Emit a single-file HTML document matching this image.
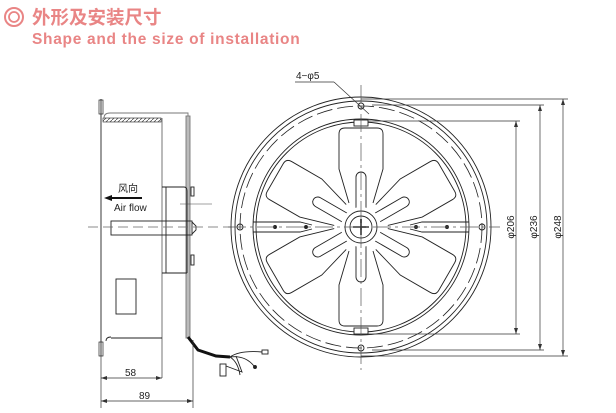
<!DOCTYPE html>
<html><head><meta charset="utf-8"><style>
html,body{margin:0;padding:0;background:#fff;width:616px;height:413px;overflow:hidden}
svg{display:block}
text{font-family:"Liberation Sans","Noto Sans CJK SC",sans-serif}
</style></head><body>
<svg width="616" height="413" viewBox="0 0 616 413" xmlns="http://www.w3.org/2000/svg">
<defs>
<pattern id="h" width="4" height="4" patternUnits="userSpaceOnUse"><path d="M0 4L4 0" stroke="#555" stroke-width="0.8"/></pattern>
<g id="blade">
<path d="M-12 -24 L-22 -58 L-22 -93 Q-22 -99 -16 -99 L16 -99 Q22 -99 22 -93 L22 -58 L12 -24" fill="#fff" stroke="#222" stroke-width="0.9"/>
</g>
<g id="arm">
<path d="M-5 -16 L-5 -50 A5 5 0 0 1 5 -50 L5 -16" fill="#fff" stroke="#222" stroke-width="0.9"/>
</g>
</defs>
<!-- header -->
<circle cx="14" cy="17" r="9" fill="none" stroke="#e98585" stroke-width="2"/>
<circle cx="14" cy="17" r="5" fill="none" stroke="#e98585" stroke-width="1.8"/>
<text x="32" y="24" font-size="18.5" font-weight="bold" fill="#e98585">外形及安装尺寸</text>
<text x="32" y="44" font-size="15.5" font-weight="bold" fill="#e98585" letter-spacing="0.7">Shape and the size of installation</text>

<!-- side view -->
<g stroke="#222" fill="none" stroke-width="0.9">
<line x1="101" y1="99" x2="101" y2="356"/>
<rect x="99" y="100" width="4" height="14" stroke-width="0.7"/>
<rect x="99" y="342" width="4" height="14" stroke-width="0.7"/>
<rect x="103" y="118" width="58" height="4" fill="url(#h)" stroke-width="0.6"/>
<path d="M104 118 Q104 113 110 113 L188 113 L188 120" stroke="#777"/>
<line x1="162" y1="118" x2="162" y2="378" stroke="#666"/>
<rect x="186" y="116" width="4" height="222" fill="#bbb" stroke="#777"/>
<path d="M162 187 L184 187 Q187 187 187 191 L187 273 M162 273 L187 273"/>
<line x1="166" y1="187" x2="166" y2="273"/>
<rect x="191" y="187" width="3" height="9"/>
<rect x="191" y="255" width="3" height="10"/>
<rect x="111" y="221" width="81" height="14"/>
<path d="M192 222 l4 4 l0 4 l-4 4"/>
<path d="M111 337 Q106 337 106 341 M111 338 L162 338"/>
<rect x="116" y="279" width="20" height="35"/>
<path d="M188 337 L198 350 L216 356 L230 357" stroke-width="3" stroke="#111"/>
<path d="M230 357 Q240 350 262 352 M230 357 Q245 355 254 366 M230 357 Q238 362 240 375"/>
<rect x="220" y="364" width="6" height="12"/>
<path d="M226 366 L242 372 L236 356"/>
<rect x="262" y="350" width="6" height="4"/>
<circle cx="255" cy="367" r="1.5" fill="#222"/>
</g>
<line x1="88" y1="227" x2="232" y2="227" stroke="#666" stroke-width="0.8" stroke-dasharray="10,5"/>
<line x1="180" y1="204" x2="212" y2="204" stroke="#444" stroke-width="0.6"/>
<text x="118" y="192" font-size="10" fill="#222">风向</text>
<path d="M108 198 L142 198" stroke="#111" stroke-width="2"/>
<path d="M104 198 L112 195 L112 201Z" fill="#111"/>
<text x="114" y="211" font-size="10" fill="#222">Air flow</text>
<!-- dims side -->
<g stroke="#333" stroke-width="0.7" fill="#333">
<line x1="101" y1="356" x2="101" y2="408"/>
<line x1="193" y1="340" x2="193" y2="408"/>
<line x1="101" y1="378" x2="162" y2="378"/>
<line x1="101" y1="401" x2="193" y2="401"/>
<path d="M101 378 l6 -2 v4z M162 378 l-6 -2 v4z M101 401 l6 -2 v4z M193 401 l-6 -2 v4z" stroke="none"/>
</g>
<text x="125" y="376" font-size="10" fill="#222">58</text>
<text x="139" y="399" font-size="10" fill="#222">89</text>

<!-- front view -->
<g stroke="#222" fill="none" stroke-width="0.9">
<circle cx="361" cy="227" r="130"/>
<circle cx="361" cy="227" r="126"/>
<circle cx="361" cy="227" r="121" stroke-dasharray="16,5" stroke-width="0.8"/>
<circle cx="361" cy="227" r="108"/>
<circle cx="361" cy="227" r="105"/>
<circle cx="361" cy="106" r="3"/><circle cx="361" cy="348" r="3"/>
<circle cx="240" cy="227" r="3"/><circle cx="482" cy="227" r="3"/>
<path d="M253 222 L300 222 L312 225 M253 232 L300 232 L312 229 M469 222 L422 222 L410 225 M469 232 L422 232 L410 229"/>
<circle cx="275" cy="227" r="1.5" fill="#222"/><circle cx="306" cy="227" r="1.5" fill="#222"/>
<circle cx="447" cy="227" r="1.5" fill="#222"/><circle cx="416" cy="227" r="1.5" fill="#222"/>
<g transform="translate(361,227)">
<use href="#blade"/><use href="#blade" transform="rotate(60)"/><use href="#blade" transform="rotate(120)"/>
<use href="#blade" transform="rotate(180)"/><use href="#blade" transform="rotate(240)"/><use href="#blade" transform="rotate(300)"/>
<use href="#arm"/><use href="#arm" transform="rotate(60)"/><use href="#arm" transform="rotate(120)"/>
<use href="#arm" transform="rotate(180)"/><use href="#arm" transform="rotate(240)"/><use href="#arm" transform="rotate(300)"/>
<circle r="20" stroke="none" fill="#fff"/>
<circle r="16"/><circle r="11"/>
<path d="M-8 0H8M0 -8V8" stroke-width="1.6"/>
</g>
<rect x="354" y="120" width="14" height="6" fill="#fff"/>
<rect x="354" y="328" width="14" height="6" fill="#fff"/>
</g>
<line x1="361" y1="85" x2="361" y2="370" stroke="#555" stroke-width="0.7" stroke-dasharray="18,4,3,4"/>
<line x1="228" y1="227" x2="500" y2="227" stroke="#555" stroke-width="0.7" stroke-dasharray="18,4,3,4"/>
<!-- 4-φ5 leader -->
<line x1="295" y1="82" x2="334" y2="82" stroke="#333" stroke-width="0.7"/>
<line x1="334" y1="82" x2="369" y2="114" stroke="#333" stroke-width="0.7"/>
<text x="296" y="79" font-size="10" fill="#222">4−φ5</text>
<!-- dims front -->
<g stroke="#333" stroke-width="0.7" fill="#333">
<line x1="361" y1="99" x2="568" y2="99"/><line x1="361" y1="356" x2="568" y2="356"/>
<line x1="372" y1="105" x2="544" y2="105"/><line x1="372" y1="350" x2="544" y2="350"/>
<line x1="368" y1="121" x2="520" y2="121"/><line x1="368" y1="334" x2="520" y2="334"/>
<line x1="516" y1="121" x2="516" y2="334"/>
<line x1="540" y1="105" x2="540" y2="350"/>
<line x1="563" y1="99" x2="563" y2="356"/>
<path d="M516 121 l-2 6 h4z M516 334 l-2 -6 h4z M540 105 l-2 6 h4z M540 350 l-2 -6 h4z M563 99 l-2 6 h4z M563 356 l-2 -6 h4z" stroke="none"/>
</g>
<text transform="translate(514,227) rotate(-90)" text-anchor="middle" font-size="10" fill="#222">φ206</text>
<text transform="translate(537,227) rotate(-90)" text-anchor="middle" font-size="10" fill="#222">φ236</text>
<text transform="translate(561,227) rotate(-90)" text-anchor="middle" font-size="10" fill="#222">φ248</text>
</svg>
</body></html>
